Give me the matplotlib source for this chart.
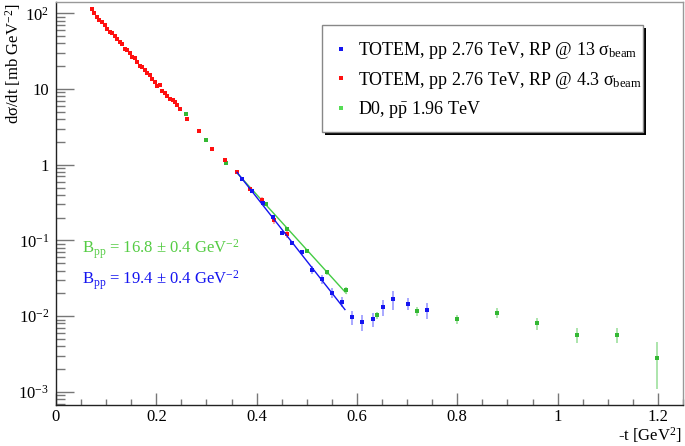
import numpy as np
import matplotlib
matplotlib.use("Agg")
import matplotlib.pyplot as plt
from matplotlib.lines import Line2D
from matplotlib.patches import Rectangle
from matplotlib.ticker import FixedLocator, FixedFormatter

plt.rcParams['font.family'] = ['Liberation Serif', 'DejaVu Serif']
plt.rcParams['mathtext.fontset'] = 'custom'
plt.rcParams['mathtext.rm'] = 'Liberation Serif'
plt.rcParams['mathtext.it'] = 'Liberation Serif:italic'
plt.rcParams['mathtext.bf'] = 'Liberation Serif:bold'
plt.rcParams['axes.unicode_minus'] = False

# ---------------- data ----------------
# TOTEM, RP @ 4.3 sigma_beam (red)
t_red = [0.0712, 0.0763, 0.0811, 0.0863, 0.0911, 0.0977, 0.1023, 0.1070, 0.1122, 0.1170,
         0.1222, 0.1276, 0.1322, 0.1369, 0.1415, 0.1469, 0.1515, 0.1569, 0.1615, 0.1674,
         0.1720, 0.1768, 0.1820, 0.1868, 0.1919, 0.1967, 0.2013, 0.2067, 0.2119, 0.2167,
         0.2213, 0.2272, 0.2326, 0.2372, 0.2418, 0.2472, 0.2617, 0.2856, 0.3109, 0.3363,
         0.3608, 0.3867, 0.4106, 0.4351, 0.4598]
y_red = [113, 101, 88.5, 82.3, 77.4, 69.4, 62.6, 56.1, 54.4, 50.1,
         45.8, 42.2, 38.9, 34.0, 32.4, 30.2, 26.5, 25.5, 22.8, 20.3,
         19.4, 18.0, 16.4, 15.2, 13.7, 12.4, 10.96, 11.4, 9.50, 8.78,
         8.15, 7.38, 7.22, 6.80, 6.15, 5.50, 4.06, 2.81, 1.63, 1.14,
         0.80, 0.473, 0.342, 0.184, 0.1216]
e_red = [1.5, 1.3, 1.1, 1.0, 0.9, 0.8, 0.7, 0.6, 0.6, 0.55,
         0.5, 0.45, 0.4, 0.35, 0.35, 0.3, 0.3, 0.28, 0.25, 0.22,
         0.2, 0.2, 0.18, 0.17, 0.15, 0.14, 0.12, 0.13, 0.11, 0.10,
         0.09, 0.09, 0.09, 0.08, 0.08, 0.07, 0.05, 0.04, 0.03, 0.025,
         0.02, 0.03, 0.03, 0.02, 0.013]

# TOTEM, RP @ 13 sigma_beam (blue)
t_blue = [0.371, 0.391, 0.412, 0.432, 0.451, 0.471, 0.490, 0.511, 0.531, 0.551,
          0.571, 0.591, 0.611, 0.631, 0.651, 0.672, 0.701, 0.740]
y_blue = [0.647, 0.450, 0.309, 0.206, 0.125, 0.0933, 0.0697, 0.0412, 0.0307, 0.0205,
          0.0156, 0.00973, 0.00843, 0.00908, 0.0131, 0.0167, 0.0146, 0.0121]
e_blue = [0.015, 0.012, 0.009, 0.007, 0.008, 0.006, 0.005, 0.005, 0.004, 0.003,
          0.0025, 0.002, 0.002, 0.0018, 0.003, 0.0047, 0.0027, 0.003]

# D0, p pbar 1.96 TeV (green)
t_green = [0.2591, 0.2990, 0.3395, 0.418, 0.4598, 0.4997, 0.5396, 0.5787, 0.6392,
           0.7190, 0.7987, 0.8784, 0.9594, 1.0385, 1.1188, 1.199]
y_green = [4.63, 2.12, 1.04, 0.300, 0.140, 0.0731, 0.0379, 0.0219, 0.0103,
           0.01167, 0.00917, 0.0111, 0.00803, 0.00569, 0.00569, 0.0028]
e_green = [0.15, 0.07, 0.04, 0.012, 0.008, 0.004, 0.003, 0.0025, 0.001,
           0.0016, 0.0013, 0.0016, 0.0015, 0.0013, 0.0013, 0.0017]

# exponential fits  A * exp(-B t)
B_blue, A_blue = 19.4, 871.0
B_green, A_green = 16.8, 334.0
fit_blue_range = [0.361, 0.576]
fit_green_range = [0.361, 0.5787]

x_ticks = [0, 0.2, 0.4, 0.6, 0.8, 1.0, 1.2]
x_ticklabels = ['0', '0.2', '0.4', '0.6', '0.8', '1', '1.2']
y_ticks = [1e-3, 1e-2, 1e-1, 1, 10, 100]
y_ticklabels = ['10$^{-3}$', '10$^{-2}$', '10$^{-1}$', '1', '10', '10$^{2}$']

leg_labels = ['TOTEM, pp 2.76 TeV, RP @ 13 σ$_{\\mathrm{beam}}$',
              'TOTEM, pp 2.76 TeV, RP @ 4.3 σ$_{\\mathrm{beam}}$',
              'D0, p$\\bar{\\mathrm{p}}$ 1.96 TeV']

# ---------------- colours ----------------
c_blue = '#1414f0'
c_red = '#ff1010'
c_green = '#33b833'
c_green_txt = '#55cc44'

FS = 12
FS_LEG = 13
W, H = 685, 446
fig = plt.figure(figsize=(W / 100, H / 100), dpi=100)
ax = fig.add_axes([56 / W, 1 - 405 / H, (683 - 56) / W, (405 - 2) / H])
ax.set_yscale('log')
ax.set_xlim(0, 1.25)
ax.set_ylim(6.7e-4, 141)

def draw(t, y, e, c, ec, z):
    ax.errorbar(t, y, yerr=e, fmt='s', ms=2.2, mfc=c, mec=c, mew=0,
                ecolor=ec, elinewidth=1.2, capsize=0, zorder=z)

draw(t_green, y_green, e_green, c_green, '#9ee09e', 3)
draw(t_red, y_red, e_red, c_red, '#ff9a9a', 4)
draw(t_blue, y_blue, e_blue, c_blue, '#9a9aff', 5)

tb = np.linspace(fit_blue_range[0], fit_blue_range[1], 50)
ax.plot(tb, A_blue * np.exp(-B_blue * tb), color=c_blue, lw=1.0, zorder=6)
tg = np.linspace(fit_green_range[0], fit_green_range[1], 50)
ax.plot(tg, A_green * np.exp(-B_green * tg), color='#44cc44', lw=1.0, zorder=2)

# ticks
ax.xaxis.set_major_locator(FixedLocator(x_ticks))
ax.xaxis.set_major_formatter(FixedFormatter(x_ticklabels))
ax.xaxis.set_minor_locator(FixedLocator(np.arange(0, 1.251, 0.05)))
ax.yaxis.set_major_locator(FixedLocator(y_ticks))
ax.yaxis.set_major_formatter(FixedFormatter(y_ticklabels))
minors = [m * 10.0 ** k for k in range(-4, 3) for m in range(2, 10)]
ax.yaxis.set_minor_locator(FixedLocator(minors))
ax.tick_params(axis='x', which='major', direction='in', length=12 * 0.72, width=1.0,
               color='#777777', labelsize=FS, pad=3, top=False)
ax.tick_params(axis='x', which='minor', direction='in', length=6 * 0.72, width=1.0,
               color='#777777', top=False)
ax.tick_params(axis='y', which='major', direction='in', length=18 * 0.72, width=1.0,
               color='#777777', labelsize=FS, pad=5, right=False)
ax.tick_params(axis='y', which='minor', direction='in', length=9 * 0.72, width=1.0,
               color='#777777', right=False)
for s in ['left', 'bottom']:
    ax.spines[s].set_color('#222222')
    ax.spines[s].set_linewidth(1.0)
for s in ['top', 'right']:
    ax.spines[s].set_color('#999999')
    ax.spines[s].set_linewidth(1.0)

ax.set_ylabel('dσ/dt [mb GeV$^{\\mathrm{-2}}$]', fontsize=FS)
ax.yaxis.set_label_coords(-0.052, 0.995)
ax.yaxis.label.set_horizontalalignment('right')
ax.text(0.998, -0.088, '-t [GeV$^{2}$]', transform=ax.transAxes, ha='right', va='baseline',
        fontsize=FS)

ax.text(0.051, 0.0769, 'B$_{\\mathrm{pp}}$ = 16.8 ± 0.4 GeV$^{\\mathrm{-2}}$', color=c_green_txt,
        fontsize=FS, va='center', ha='left')
ax.text(0.051, 0.0300, 'B$_{\\mathrm{pp}}$ = 19.4 ± 0.4 GeV$^{\\mathrm{-2}}$', color=c_blue,
        fontsize=FS, va='center', ha='left')

# legend box with ROOT-like shadow
bx0, by0, bx1, by1 = 322, 25, 643, 132
shadow = Rectangle(((bx0 + 3) / W, 1 - (by1 + 3) / H), (bx1 - bx0) / W, (by1 - by0) / H,
                   transform=fig.transFigure, facecolor='black', edgecolor='black', lw=0,
                   zorder=10, clip_on=False)
box = Rectangle((bx0 / W, 1 - by1 / H), (bx1 - bx0) / W, (by1 - by0) / H,
                transform=fig.transFigure, facecolor='white', edgecolor='#888888', lw=1.0,
                zorder=11, clip_on=False)
ax.add_artist(shadow)
ax.add_artist(box)

handles = [Line2D([], [], ls='none', marker='s', ms=2.2, mfc=c, mec=c, mew=0)
           for c in [c_blue, c_red, '#55dd55']]
leg = ax.legend(handles, leg_labels, loc='upper left',
                bbox_to_anchor=(328.5 / W, 1 - 34.5 / H),
                bbox_transform=fig.transFigure, frameon=False, fontsize=FS_LEG,
                handlelength=0.8, handletextpad=0.55, labelspacing=0.48, borderpad=0.3,
                borderaxespad=0)
leg.set_zorder(12)

fig.savefig('out.png', dpi=100)
